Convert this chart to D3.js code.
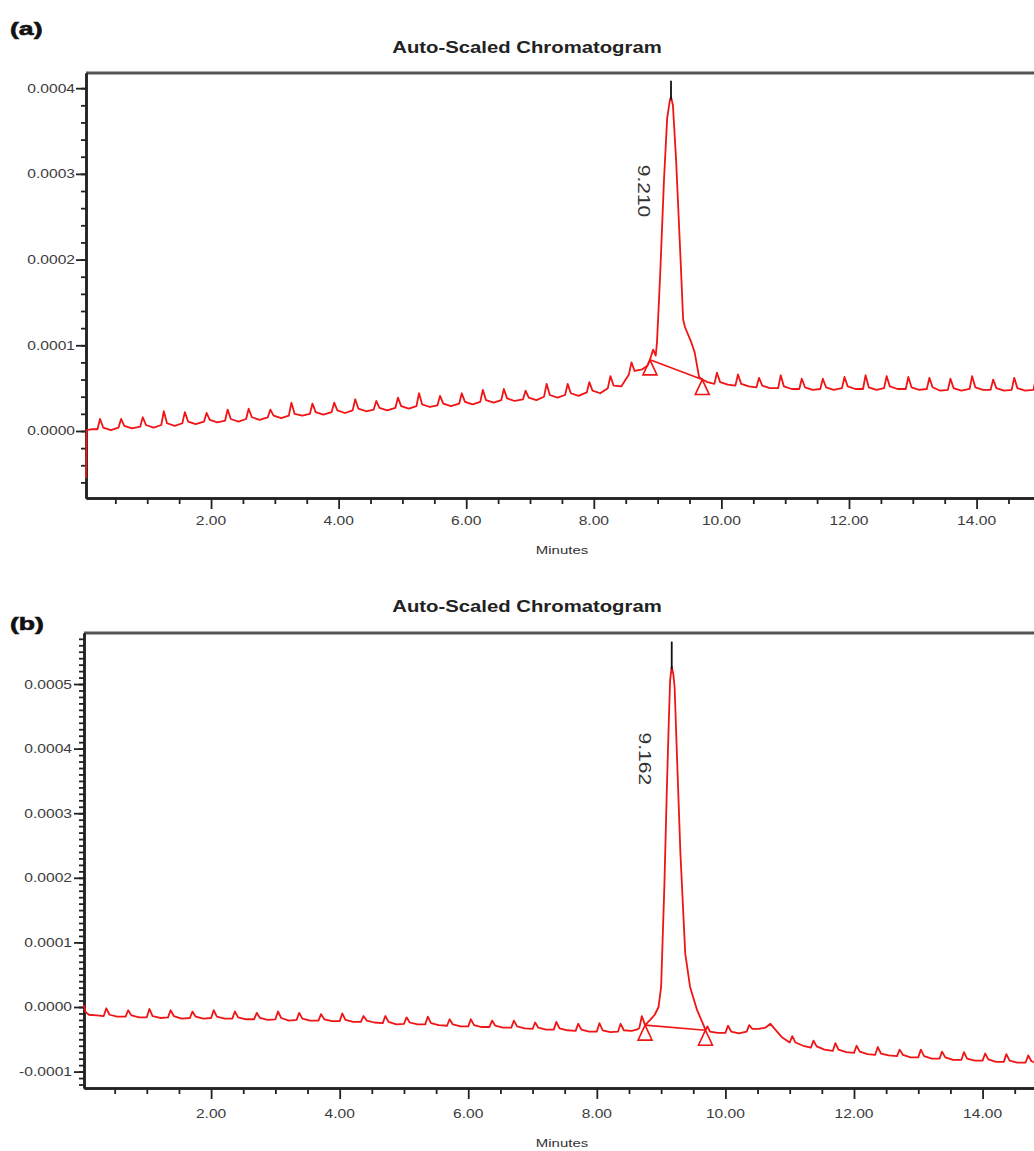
<!DOCTYPE html>
<html>
<head>
<meta charset="utf-8">
<script src="https://cdn.jsdelivr.net/npm/d3@7"></script>
<style>
  body { margin: 0; background: #fff; overflow: hidden; }
  svg { display: block; }
</style>
</head>
<body>
<svg id="fig" width="1034" height="1151"></svg>
<script>
// ---------- data ----------
const panelLabels = ["(a)", "(b)"];
const chartTitle = "Auto-Scaled Chromatogram";
const xAxisTitle = "Minutes";
const xTickValues = [2, 4, 6, 8, 10, 12, 14];
const yTickValuesA = [0, 0.0001, 0.0002, 0.0003, 0.0004];
const yTickValuesB = [-0.0001, 0, 0.0001, 0.0002, 0.0003, 0.0004, 0.0005];

// detector traces: [retention time (min), absorbance (micro-AU)]
const traceA = [
  [0.04,-55],[0.05,1],[0.12,2],
  [0.22,2],[0.26,14],[0.31,4],[0.43,1],
  [0.55,4],[0.59,14],[0.64,6],[0.76,3],
  [0.89,5],[0.93,16],[0.98,7],[1.10,4],
  [1.22,7],[1.26,23],[1.31,9],[1.43,6],
  [1.55,9],[1.59,22],[1.64,11],[1.76,8],
  [1.89,11],[1.93,21],[1.98,13],[2.10,10],
  [2.22,12],[2.26,25],[2.31,14],[2.43,11],
  [2.55,14],[2.59,26],[2.64,16],[2.76,13],
  [2.89,16],[2.93,25],[2.98,18],[3.10,15],
  [3.22,18],[3.26,33],[3.31,20],[3.43,18],
  [3.55,20],[3.59,32],[3.64,22],[3.76,19],
  [3.89,22],[3.93,33],[3.98,24],[4.10,21],
  [4.22,24],[4.26,37],[4.31,26],[4.43,23],
  [4.55,25],[4.59,35],[4.64,27],[4.76,24],
  [4.89,27],[4.93,39],[4.98,29],[5.10,26],
  [5.22,29],[5.26,44],[5.31,31],[5.43,28],
  [5.55,30],[5.59,41],[5.64,32],[5.76,29],
  [5.89,32],[5.93,44],[5.98,34],[6.10,31],
  [6.22,34],[6.26,48],[6.31,36],[6.43,33],
  [6.55,36],[6.59,49],[6.64,38],[6.76,35],
  [6.89,37],[6.93,47],[6.98,39],[7.10,36],
  [7.22,40],[7.26,55],[7.31,42],[7.43,39],
  [7.55,42],[7.59,55],[7.64,44],[7.76,41],
  [7.89,45],[7.93,57],[7.98,47],[8.10,44],
  [8.22,50],[8.26,64],[8.31,53],[8.43,52],
  [8.50,60],[8.55,66],[8.59,80],[8.64,70],[8.76,72],
  [8.84,76],[8.88,83],[8.93,95],[8.97,88],[8.99,103],[9.04,182],[9.10,293],
  [9.15,365],[9.19,385],[9.21,390],[9.24,380],[9.29,316],[9.36,200],[9.40,130],
  [9.43,121],[9.53,103],[9.58,92],[9.65,63],[9.70,60],[9.78,57],
  [9.89,55],[9.93,68],[9.98,57],[10.10,54],
  [10.22,53],[10.26,66],[10.31,55],[10.43,52],
  [10.55,51],[10.59,62],[10.64,53],[10.76,50],
  [10.89,50],[10.93,65],[10.98,52],[11.10,49],
  [11.22,49],[11.26,61],[11.31,51],[11.43,48],
  [11.55,49],[11.59,61],[11.64,51],[11.76,48],
  [11.89,50],[11.93,63],[11.98,52],[12.10,49],
  [12.22,49],[12.26,65],[12.31,51],[12.43,48],
  [12.55,50],[12.59,64],[12.64,52],[12.76,49],
  [12.89,49],[12.93,63],[12.98,51],[13.10,48],
  [13.22,49],[13.26,62],[13.31,51],[13.43,47],
  [13.55,48],[13.59,61],[13.64,50],[13.76,47],
  [13.89,49],[13.93,64],[13.98,51],[14.10,48],
  [14.22,48],[14.26,60],[14.31,50],[14.43,47],
  [14.55,48],[14.59,62],[14.64,50],[14.76,47],
  [14.89,48],[14.93,61],[14.98,50]
];

const traceB = [
  [0.02,3],[0.05,-8],[0.10,-12],[0.22,-13],
  [0.33,-14],[0.37,-2],[0.42,-12],[0.54,-15],
  [0.67,-15],[0.71,-5],[0.76,-13],[0.88,-16],
  [1.00,-16],[1.04,-3],[1.09,-14],[1.21,-17],
  [1.33,-16],[1.37,-5],[1.42,-14],[1.54,-18],
  [1.67,-17],[1.71,-7],[1.76,-15],[1.88,-18],
  [2.00,-17],[2.04,-5],[2.09,-15],[2.21,-18],
  [2.33,-18],[2.37,-7],[2.42,-16],[2.54,-19],
  [2.67,-19],[2.71,-9],[2.76,-17],[2.88,-20],
  [3.00,-19],[3.04,-7],[3.09,-17],[3.21,-21],
  [3.33,-20],[3.37,-9],[3.42,-18],[3.54,-21],
  [3.67,-21],[3.71,-11],[3.76,-19],[3.88,-22],
  [4.00,-22],[4.04,-10],[4.09,-20],[4.21,-23],
  [4.33,-23],[4.37,-14],[4.42,-21],[4.54,-24],
  [4.67,-25],[4.71,-14],[4.76,-23],[4.88,-27],
  [5.00,-26],[5.04,-16],[5.09,-24],[5.21,-27],
  [5.33,-27],[5.37,-15],[5.42,-25],[5.54,-28],
  [5.67,-29],[5.71,-19],[5.76,-27],[5.88,-30],
  [6.00,-30],[6.04,-19],[6.09,-28],[6.21,-31],
  [6.33,-31],[6.37,-21],[6.42,-29],[6.54,-32],
  [6.67,-32],[6.71,-21],[6.76,-30],[6.88,-33],
  [7.00,-34],[7.04,-24],[7.09,-32],[7.21,-35],
  [7.33,-35],[7.37,-23],[7.42,-33],[7.54,-36],
  [7.67,-37],[7.71,-26],[7.76,-35],[7.88,-38],
  [8.00,-38],[8.04,-25],[8.09,-36],[8.21,-39],
  [8.33,-38],[8.37,-26],[8.42,-36],[8.54,-37],
  [8.62,-35],[8.66,-33],[8.70,-14],[8.75,-28],[8.83,-20],[8.90,-12],[8.96,0],
  [9.00,31],[9.05,186],[9.09,341],[9.12,444],[9.14,506],[9.165,527],[9.19,515],
  [9.21,495],[9.245,393],[9.30,238],[9.375,83],[9.45,31],[9.56,-5],[9.66,-28],
  [9.69,-36],[9.72,-30],[9.76,-38],[9.88,-40],
  [10.00,-40],[10.04,-29],[10.09,-38],[10.21,-41],
  [10.33,-38],[10.37,-28],[10.42,-34],[10.52,-34],[10.62,-32],[10.70,-26],[10.76,-33],[10.88,-47],
  [11.00,-55],[11.04,-45],[11.09,-55],[11.21,-60],
  [11.33,-63],[11.37,-52],[11.42,-61],[11.54,-66],
  [11.67,-68],[11.71,-56],[11.76,-66],[11.88,-70],
  [12.00,-71],[12.04,-60],[12.09,-69],[12.21,-73],
  [12.33,-74],[12.37,-62],[12.42,-72],[12.54,-75],
  [12.67,-76],[12.71,-66],[12.76,-74],[12.88,-78],
  [13.00,-78],[13.04,-66],[13.09,-76],[13.21,-80],
  [13.33,-80],[13.37,-69],[13.42,-78],[13.54,-82],
  [13.67,-82],[13.71,-70],[13.76,-80],[13.88,-83],
  [14.00,-83],[14.04,-72],[14.09,-81],[14.21,-85],
  [14.33,-85],[14.37,-73],[14.42,-83],[14.54,-86],
  [14.67,-86],[14.71,-75],[14.76,-84],[14.85,-87]
];

// integrated peaks: retention-time label, apex, integration start and end
const peakLabels = ["9.210", "9.162"];
const peakApexA = [9.21, 390];
const peakApexB = [9.165, 527];
const peakBoundsA = [[8.88, 83], [9.70, 60]];
const peakBoundsB = [[8.75, -28], [9.69, -36]];

// ---------- layout ----------
const FONT = "'Liberation Sans', Arial, Helvetica, sans-serif";
const STRETCH = 1.3;   // wide lettering of the instrument printout
const RED = "#f01414";

const panels = [
  {
    label: panelLabels[0], labelY: 35, titleY: 53,
    left: 86, top: 73, bottom: 498, right: 1034,
    xDomain: [0.04, 14.90], yDomain: [-0.0000782, 0.0004177],
    yTicks: yTickValuesA, yMinorStep: 2, yMinorRange: [-3, 21],
    labelRight: 75, xLabelY: 525, xTitleY: 554,
    trace: traceA, apex: peakApexA, bounds: peakBoundsA, peakLabel: peakLabels[0],
    apexTick: 16, peakLabelDx: -33, peakLabelDy: 68
  },
  {
    label: panelLabels[1], labelY: 630, titleY: 612,
    left: 84, top: 633, bottom: 1088, right: 1034,
    xDomain: [0.023, 14.80], yDomain: [-0.0001254, 0.000579],
    yTicks: yTickValuesB, yMinorStep: 1, yMinorRange: [-12, 58],
    labelRight: 72, xLabelY: 1118, xTitleY: 1147,
    trace: traceB, apex: peakApexB, bounds: peakBoundsB, peakLabel: peakLabels[1],
    apexTick: 25, peakLabelDx: -33, peakLabelDy: 66
  }
];

const svg = d3.select("#fig");

function stretchedText(g, x, y, txt, opts) {
  return g.append("text")
    .attr("transform", `translate(${x},${y}) scale(${opts.sx || STRETCH},1)`)
    .attr("text-anchor", opts.anchor || "start")
    .attr("font-family", FONT)
    .attr("font-size", opts.size)
    .attr("font-weight", opts.weight || "normal")
    .attr("fill", opts.fill || "#333")
    .attr("stroke", opts.stroke || "none")
    .attr("stroke-width", opts.strokeWidth || 0)
    .text(txt);
}

panels.forEach(p => {
  const g = svg.append("g");
  const x = d3.scaleLinear().domain(p.xDomain).range([p.left, p.right]);
  const y = d3.scaleLinear().domain(p.yDomain).range([p.bottom, p.top]);
  const uAU = v => v * 1e-6;

  // panel letter and title
  stretchedText(g, 10, p.labelY, p.label, {size: 19, weight: "bold", fill: "#111", sx: 1.4, stroke: "#111", strokeWidth: 0.6});
  stretchedText(g, 527, p.titleY, chartTitle, {size: 16, weight: "bold", fill: "#222", anchor: "middle", sx: 1.27});

  // top frame line
  g.append("line")
    .attr("x1", p.left).attr("x2", p.right)
    .attr("y1", p.top).attr("y2", p.top)
    .attr("stroke", "#555").attr("stroke-width", 3);

  // y axis: major and minor ticks
  const yMinor = d3.range(p.yMinorRange[0], p.yMinorRange[1]).map(i => i * 1e-5 * p.yMinorStep)
    .filter(v => v >= p.yDomain[0] && v <= p.yDomain[1]);
  const yAxisMinor = g.append("g").attr("transform", `translate(${p.left},0)`)
    .call(d3.axisLeft(y).tickValues(yMinor).tickSize(5).tickSizeOuter(0).tickFormat(""));
  const yAxisMajor = g.append("g").attr("transform", `translate(${p.left},0)`)
    .call(d3.axisLeft(y).tickValues(p.yTicks).tickSize(10).tickSizeOuter(0).tickFormat(""));
  [yAxisMinor, yAxisMajor].forEach(a => {
    a.select(".domain").attr("stroke", "#222").attr("stroke-width", 2.5);
    a.selectAll(".tick line").attr("stroke", "#222").attr("stroke-width", 1.8);
  });
  p.yTicks.forEach(v => {
    stretchedText(g, p.labelRight, y(v) + 4.5, v.toFixed(4), {size: 12, anchor: "end", fill: "#3c3c3c"});
  });

  // x axis: labelled ticks every 2 min, minor ticks every 0.5 min
  const xMinor = d3.range(1, 30).map(i => i * 0.5)
    .filter(v => v >= p.xDomain[0] && v <= p.xDomain[1] && v % 2 !== 0);
  const xAxisMinor = g.append("g").attr("transform", `translate(0,${p.bottom})`)
    .call(d3.axisBottom(x).tickValues(xMinor).tickSize(6).tickSizeOuter(0).tickFormat(""));
  const xAxisMajor = g.append("g").attr("transform", `translate(0,${p.bottom})`)
    .call(d3.axisBottom(x).tickValues(xTickValues).tickSize(11).tickSizeOuter(0).tickFormat(""));
  [xAxisMinor, xAxisMajor].forEach(a => {
    a.select(".domain").attr("stroke", "#222").attr("stroke-width", 2.5);
    a.selectAll(".tick line").attr("stroke", "#222").attr("stroke-width", 1.8);
  });
  xTickValues.forEach(v => {
    stretchedText(g, x(v), p.xLabelY, v.toFixed(2), {size: 12, anchor: "middle", fill: "#3c3c3c"});
  });
  stretchedText(g, 562, p.xTitleY, xAxisTitle, {size: 11.5, anchor: "middle", fill: "#333"});

  // chromatogram trace
  const line = d3.line().x(d => x(d[0])).y(d => y(uAU(d[1])));
  g.append("path").datum(p.trace)
    .attr("d", line)
    .attr("fill", "none").attr("stroke", RED)
    .attr("stroke-width", 1.8).attr("stroke-linejoin", "round");

  // integration baseline with start/end markers
  g.append("path").datum(p.bounds)
    .attr("d", line)
    .attr("fill", "none").attr("stroke", RED).attr("stroke-width", 1.6);
  g.selectAll(null).data(p.bounds).join("path")
    .attr("transform", d => `translate(${x(d[0])},${y(uAU(d[1]))})`)
    .attr("d", "M0,0 L7,15 L-7,15 Z")
    .attr("fill", "none").attr("stroke", RED).attr("stroke-width", 1.6);

  // apex marker and retention-time label
  const ax = x(p.apex[0]), ay = y(uAU(p.apex[1]));
  g.append("line")
    .attr("x1", ax).attr("x2", ax).attr("y1", ay + 3).attr("y2", ay - p.apexTick)
    .attr("stroke", "#111").attr("stroke-width", 1.8);
  g.append("text")
    .attr("transform", `translate(${ax + p.peakLabelDx},${ay + p.peakLabelDy}) rotate(90) scale(1.5,1.2)`)
    .attr("font-family", FONT).attr("font-size", 14)
    .attr("fill", "#333")
    .text(p.peakLabel);
});
</script>
</body>
</html>
